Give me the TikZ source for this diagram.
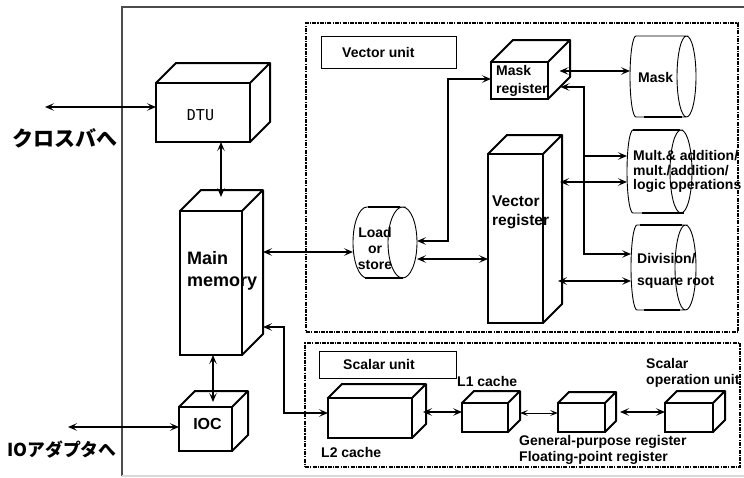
\documentclass[tikz,border=0pt]{standalone}
\usepackage{fontspec}
\setmainfont{Liberation Sans}
\newfontfamily\jpfont{Noto Sans CJK JP}
\newfontfamily\dtufont{DejaVu Sans Mono}
\usetikzlibrary{arrows.meta}

\tikzset{
  link/.style={line width=2pt, <->},
  feed/.style={line width=2pt, ->},
  thinlink/.style={line width=1pt, {Stealth[length=8pt,width=6pt,inset=3.5pt]}-{Stealth[length=8pt,width=6pt,inset=3.5pt]}},
  face/.style={draw, line width=2pt, fill=white, inner sep=0pt, outer sep=0pt},
  drumline/.style={line width=0.9pt},
  rim/.style={line width=2.4pt},
  unitbox/.style={draw, line width=1.6pt, dash pattern=on 4pt off 1.2pt on 1.2pt off 1.2pt, inner sep=0pt, outer sep=0pt},
  tagbox/.style={draw, line width=1pt, inner sep=0pt, outer sep=0pt},
  txt/.style={font=\bfseries\fontsize{14}{16}\selectfont, align=left, inner sep=0pt, anchor=west},
}

% box in perspective: front face as a node, top and right faces drawn on it
\newcommand{\cubebox}[5]{%
  \node[face, minimum width=#3, minimum height=#4] (#1) at #2 {};
  \draw[line width=2pt, line join=round]
    (#1.north west) -- ++(#5,-#5) -- ([shift={(#5,-#5)}]#1.north east)
      -- ([shift={(#5,-#5)}]#1.south east) -- (#1.south east)
    (#1.north east) -- ++(#5,-#5);
}
% drum lying on its side: name, centre, width, height, left bulge, right end radius
\newcommand{\drumbox}[6]{%
  \node[inner sep=0pt, outer sep=0pt, minimum width=#3, minimum height=#4] (#1) at #2 {};
  \draw[drumline]
    ([xshift=-#6pt]#1.north east) arc[start angle=90, end angle=-270, x radius=#6pt, y radius=0.5*#4pt]
    -- ([xshift=#5pt]#1.north west) arc[start angle=90, end angle=270, x radius=#5pt, y radius=0.5*#4pt]
    -- ([xshift=-#6pt]#1.south east);
}

\begin{document}
\begin{tikzpicture}[x=1pt, y=-1pt, >={Stealth[length=9pt,width=7.5pt,inset=4pt]}]
\useasboundingbox (0,0) rectangle (744,477);
% outer frame
\draw[line width=1.2pt, black!70] (122,476) -- (122,7) -- (750,7);
\draw[line width=1.2pt, black!15] (122,476) -- (750,476);

% vector and scalar units
\node[unitbox, minimum width=432, minimum height=309] (vecunit) at (522,177.5) {};
\node[unitbox, minimum width=435, minimum height=124] (scaunit) at (522.5,405) {};
\node[tagbox, minimum width=135, minimum height=32] (vectag) at (388.5,52) {};
\node[txt] (vecname) at (342,52) {Vector unit};
\node[tagbox, minimum width=137, minimum height=27] (scatag) at (387.5,364.5) {};
\node[txt] (scaname) at (343,364.5) {Scalar unit};

% boxes
\cubebox{dtu}{(203,112.5)}{94}{59}{20}
\cubebox{mem}{(211,283)}{62}{144}{21}
\cubebox{ioc}{(205.5,429)}{53}{44}{16}
\cubebox{maskreg}{(519.5,80.5)}{57}{37}{22}
\cubebox{vecreg}{(515.5,238.5)}{55}{169}{19}
\cubebox{ltwo}{(370,418)}{84}{40}{14}
\cubebox{lone}{(485,417.5)}{46}{29}{12}
\cubebox{gpreg}{(581.5,417.5)}{47}{29}{11}
\cubebox{scop}{(689,417.5)}{48}{29}{12}

% drums
\drumbox{mask}{(663,76.5)}{66}{81}{6}{9.5}
\drumbox{mult}{(659.5,171.5)}{65}{83}{6}{11}
\drumbox{div}{(663.5,267.5)}{65}{85}{6}{10.5}
\drumbox{load}{(385,242.5)}{64}{71}{14}{14.5}
\draw[rim] ([shift={(-19,40.5)}]mask.center) -- ++(38,0);
\draw[rim] ([shift={(-27,-41.5)}]mult.center) -- ++(47,0);
\draw[rim] ([shift={(-18,41.5)}]mult.center) -- ++(42,0);
\draw[rim] ([shift={(-23.5,-42.5)}]div.center) -- ++(42,0);
\draw[rim] ([shift={(-19.5,42.5)}]div.center) -- ++(36,0);
\draw[rim] ([shift={(-17,-35.5)}]load.center) -- ++(32,0);
\draw[rim] ([shift={(-20,35.5)}]load.center) -- ++(38,0);

% labels
\node[anchor=center, inner sep=0pt, font=\dtufont\fontsize{15}{15}\selectfont] (dtuname) at (200.5,115) {DTU};
\node[txt, font=\bfseries\fontsize{18}{22}\selectfont] (memname) at (187,271) {Main\\memory};
\node[txt, font=\bfseries\fontsize{16}{16}\selectfont, anchor=center] (iocname) at (207.5,423.5) {IOC};
\node[txt, font=\bfseries\fontsize{14}{18}\selectfont] (maskregname) at (496,81) {Mask\\register};
\node[txt, font=\bfseries\fontsize{15.5}{19}\selectfont] (vecregname) at (492,212.5) {Vector\\register};
\node[txt, align=center, anchor=center] (loadname) at (375,248) {Load\\or\\store};
\node[txt] (maskname) at (638,77) {Mask};
\node[txt, font=\bfseries\fontsize{14}{14.5}\selectfont] (multname) at (633,171.5) {Mult.\& addition/\\mult./addition/\\logic operations};
\node[txt, font=\bfseries\fontsize{14}{22}\selectfont] (divname) at (637,271) {Division/\\square root};
\node[txt] (ltwoname) at (321,452) {L2 cache};
\node[txt] (lonename) at (457,381) {L1 cache};
\node[txt] (gpname) at (519,450) {General-purpose register\\Floating-point register};
\node[txt] (scopname) at (646,373) {Scalar\\operation unit};
\node[anchor=west, inner sep=0pt, font=\jpfont\bfseries\fontsize{21}{21}\selectfont] (xbarname) at (12,138.5) {クロスバへ};
\node[anchor=west, inner sep=0pt, font=\jpfont\bfseries\fontsize{17.8}{17.8}\selectfont] (ioname) at (7,449.5) {IOアダプタへ};

% connections
\coordinate (xbar) at (45,107);
\draw[link] (xbar) -- (xbar -| dtu.west);
\coordinate (iobus) at (68,427);
\draw[link] (iobus) -- (iobus -| ioc.west);
\draw[link] ([xshift=18pt]dtu.south) -- ++(0,55);
\draw[link] ([xshift=2pt]mem.south) -- ++(0,47);
\coordinate (memload) at ([shift={(21,-31)}]mem.east);
\draw[link] (memload) -- (memload -| load.west);
\coordinate (memcache) at ([shift={(21,44)}]mem.east);
\draw[link] (memcache) -- ++(21,0) |- ([shift={(0,-5)}]ltwo.west);
\draw[link] ([shift={(0,-1.5)}]load.east) -- ++(31,0) |- ([shift={(0,-1.5)}]maskreg.west);
\coordinate (loadvec) at ([shift={(0,16.5)}]load.east);
\draw[link] (loadvec) -- (loadvec -| vecreg.west);
\coordinate (regmask) at ([shift={(40,-9.5)}]maskreg.center);
\draw[link] (regmask) -- (regmask -| mask.west);
\coordinate (regbus) at ([shift={(41,6.5)}]maskreg.center);
\draw[link] (regbus) -- ++(23,0) |- ([shift={(0,-13.5)}]div.west);
\coordinate (bus) at ([shift={(23,0)}]regbus);
\coordinate (busmult) at ([shift={(0,-15.5)}]mult.west);
\draw[feed] (bus |- busmult) -- (busmult);
\coordinate (vecmult) at ([shift={(44.5,-56.5)}]vecreg.center);
\draw[link] (vecmult) -- (vecmult -| mult.west);
\coordinate (vecdiv) at ([shift={(42.5,42.5)}]vecreg.center);
\draw[link] (vecdiv) -- (vecdiv -| div.west);
\coordinate (twoone) at ([shift={(53,-6)}]ltwo.center);
\draw[link] (twoone) -- (twoone -| lone.west);
\coordinate (onegp) at ([shift={(35,-4.5)}]lone.center);
\draw[thinlink] (onegp) -- (onegp -| gpreg.west);
\coordinate (gpop) at ([shift={(38.5,-5.5)}]gpreg.center);
\draw[link] (gpop) -- (gpop -| scop.west);
\end{tikzpicture}
\end{document}
